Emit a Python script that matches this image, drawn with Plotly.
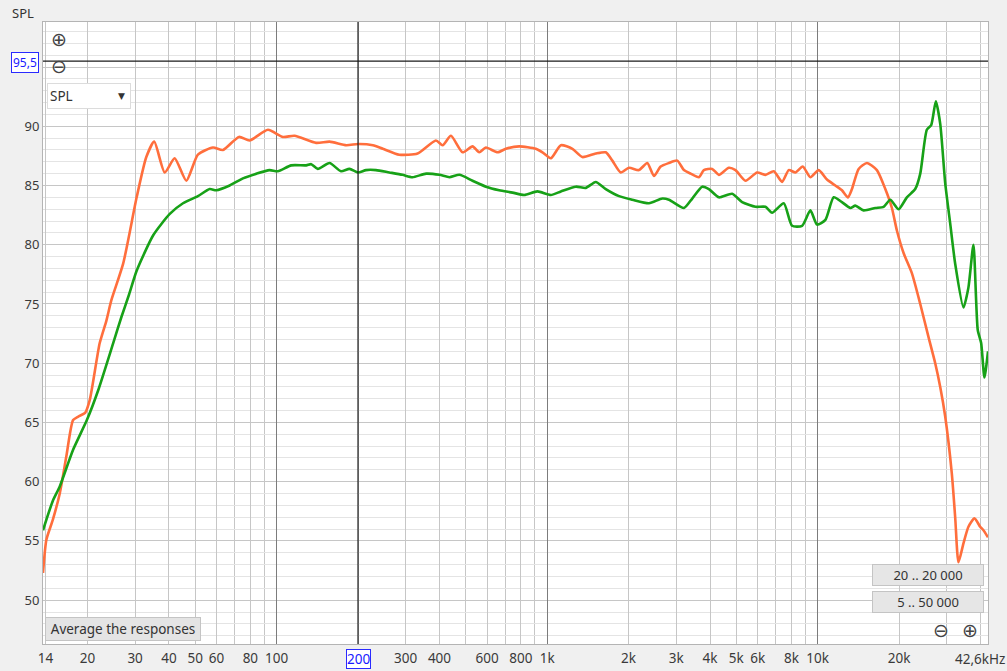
import math
import plotly.graph_objects as go

# ---------------- data ----------------
orange_freq = [13.7, 14.1, 14.9, 15.8, 16.7, 17.7, 18.5, 19.6, 20.4, 22.2, 23.5, 24.5, 27.1, 30.4,
               33.0, 35.3, 38.6, 42.0, 46.4, 51.2, 58.2, 63.4, 72.6, 79.5, 92.9, 105.5, 116.5,
               140, 157, 181, 200, 227, 247, 284, 332, 388, 411, 441, 487, 530, 561, 594, 656,
               704, 788, 908, 961, 1032, 1124, 1240, 1350, 1512, 1647, 1742, 1871, 2007, 2185,
               2345, 2482, 2628, 2820, 3026, 3203, 3391, 3638, 3796, 4074, 4312, 4694, 4969,
               5410, 5970, 6412, 6880, 7385, 7816, 8274, 8805, 9399, 10085, 10822, 11622, 12292,
               12934, 13384, 14169, 15204, 16549, 17778, 18805, 19620, 20766, 22284, 23933,
               25680, 27186, 28370, 29598, 31304, 32219, 33136, 34571, 36071, 37958, 39847,
               40975, 42600]
orange_spl = [52.3, 55.1, 56.8, 59.0, 62.1, 65.2, 65.5, 65.8, 66.9, 71.7, 73.6, 75.3, 78.4, 84.0,
              87.4, 88.7, 86.1, 87.3, 85.4, 87.6, 88.2, 88.0, 89.1, 88.8, 89.7, 89.1, 89.2,
              88.6, 88.7, 88.4, 88.5, 88.4, 88.1, 87.6, 87.7, 88.8, 88.4, 89.2, 87.8, 88.3, 87.8,
              88.2, 87.8, 88.1, 88.3, 88.1, 87.8, 87.3, 88.4, 88.1, 87.4, 87.7, 87.8, 87.1, 86.1,
              86.5, 86.3, 86.9, 85.8, 86.6, 86.9, 87.1, 86.3, 86.0, 85.7, 86.3, 86.4, 85.9, 86.5,
              86.3, 85.4, 86.1, 85.9, 86.2, 85.3, 86.3, 86.1, 86.6, 85.7, 86.3, 85.5, 85.0, 84.6,
              84.0, 84.7, 86.4, 86.9, 86.3, 84.7, 83.1, 81.2, 79.3, 77.6, 75.0, 72.2, 70.0, 68.0,
              65.5, 60.7, 57.0, 53.2, 54.8, 56.2, 56.9, 56.2, 55.9, 55.3]

green_freq = [13.7, 14.9, 15.8, 17.7, 19.9, 21.9, 24.9, 26.7, 28.5, 30.4, 35.0, 40.3, 45.1, 51.2,
              56.6, 59.9, 67.1, 75.1, 84.2, 94.2, 101.1, 113.3, 128.7, 134.3, 142, 157, 173, 186,
              200, 214, 233, 261, 292, 318, 357, 400, 435, 474, 530, 594, 665, 745, 823, 921,
              1032, 1124, 1276, 1389, 1512, 1647, 1844, 2064, 2379, 2664, 2820, 3203, 3438, 3742,
              3961, 4312, 4828, 5256, 5890, 6412, 6783, 7491, 8039, 8754, 9399, 9941, 10676,
              11455, 12292, 13203, 13775, 14778, 16325, 17521, 18545, 19904, 21357, 22933, 23933,
              25310, 26276, 27326, 28370, 29598, 30880, 32219, 34571, 36071, 37640, 39042, 40188,
              41325, 42600]
green_spl = [55.9, 58.4, 59.6, 62.7, 65.2, 67.7, 71.7, 73.9, 75.8, 77.8, 80.8, 82.6, 83.5, 84.1,
             84.7, 84.6, 85.0, 85.6, 86.0, 86.3, 86.2, 86.7, 86.7, 86.8, 86.4, 86.9, 86.2, 86.4,
             86.1, 86.3, 86.3, 86.1, 85.9, 85.7, 86.0, 85.9, 85.7, 85.9, 85.4, 84.9, 84.6, 84.4,
             84.2, 84.5, 84.2, 84.5, 84.9, 84.8, 85.3, 84.7, 84.1, 83.8, 83.5, 83.9, 83.8, 83.1,
             83.9, 84.9, 84.7, 84.0, 84.3, 83.6, 83.2, 83.2, 82.7, 83.5, 81.6, 81.6, 82.9, 81.7,
             82.1, 84.0, 83.6, 83.1, 83.3, 82.9, 83.1, 83.2, 83.8, 83.0, 84.0, 84.7, 86.0, 89.7,
             90.1, 92.1, 90.2, 85.2, 81.8, 78.4, 74.7, 76.4, 80.0, 72.8, 71.7, 68.8, 71.0]

x_tick_vals = [14, 20, 30, 40, 50, 60, 80, 100, 300, 400, 600, 800, 1000, 2000, 3000, 4000,
               5000, 6000, 8000, 10000, 20000]
x_tick_text = ["14", "20", "30", "40", "50", "60", "80", "100", "300", "400", "600", "800", "1k",
               "2k", "3k", "4k", "5k", "6k", "8k", "10k", "20k"]
x_minor_vals = [m * 10 ** e for e in range(1, 5) for m in range(1, 10) if 13 < m * 10 ** e < 43000]
x_decades = [100, 1000, 10000]
x_range_hz = [13.7, 42600]
x_end_label = "42,6kHz"

y_tick_vals = [50, 55, 60, 65, 70, 75, 80, 85, 90, 95]
y_tick_text = ["50", "55", "60", "65", "70", "75", "80", "85", "90", ""]
y_range = [46.3, 98.8]

cursor_freq = 200
cursor_db = 95.5

# ---------------- figure ----------------
ORANGE = "#ff6e3c"
GREEN = "#17a117"
FONT = "Noto Sans"
BG = "#f0f0f0"

fig = go.Figure()
fig.add_trace(go.Scatter(x=orange_freq, y=orange_spl, mode="lines",
                         line=dict(color=ORANGE, width=2.6, shape="spline", smoothing=0.6),
                         hoverinfo="skip", showlegend=False))
fig.add_trace(go.Scatter(x=green_freq, y=green_spl, mode="lines",
                         line=dict(color=GREEN, width=2.6, shape="spline", smoothing=0.6),
                         hoverinfo="skip", showlegend=False))
# cursor lines
fig.add_trace(go.Scatter(x=[cursor_freq, cursor_freq], y=y_range, mode="lines", xaxis="x2",
                         line=dict(color="#1a1a1a", width=1.2), hoverinfo="skip", showlegend=False))
fig.add_trace(go.Scatter(x=x_range_hz, y=[cursor_db, cursor_db], mode="lines", xaxis="x2",
                         line=dict(color="#1a1a1a", width=1.2), hoverinfo="skip", showlegend=False))

xr = [math.log10(x_range_hz[0]), math.log10(x_range_hz[1])]

fig.update_layout(
    width=1007, height=671,
    margin=dict(l=43, r=19, t=22, b=27, autoexpand=False),
    paper_bgcolor=BG, plot_bgcolor="white",
    font=dict(family=FONT, size=13, color="#3a3a3a"),
    xaxis=dict(type="log", range=xr, tickvals=x_tick_vals, ticktext=x_tick_text,
               showgrid=True, gridcolor="#c6c6c6", gridwidth=1, ticks="", zeroline=False,
               showline=True, mirror=True, linecolor="#b4b4b4", automargin=False,
               ticklabelstandoff=2,
               minor=dict(tickvals=x_minor_vals, showgrid=True, gridcolor="#c6c6c6", ticks=""),
               tickfont=dict(size=13.5, color="#3a3a3a")),
    xaxis2=dict(type="log", range=xr, overlaying="x", tickvals=x_decades, automargin=False,
                showticklabels=False, showgrid=True, gridcolor="#7c7c7c", gridwidth=1,
                ticks="", zeroline=False, showline=False),
    yaxis=dict(range=y_range, tickvals=y_tick_vals, ticktext=y_tick_text, automargin=False,
               showgrid=True, gridcolor="#c6c6c6", gridwidth=1, ticks="", zeroline=False,
               showline=True, mirror=True, linecolor="#b4b4b4",
               minor=dict(dtick=1, tick0=0, showgrid=True, gridcolor="#e4e4e4", ticks=""),
               tickfont=dict(size=13, color="#3a3a3a")),
)

W, H = 945.0, 622.0  # plot area size in px (l=43, t=22)


def px(x, y):
    return (x - 43) / W, (644 - y) / H


def ann(x, y, text, **kw):
    ax, ay = px(x, y)
    d = dict(x=ax, y=ay, xref="paper", yref="paper", text=text, showarrow=False,
             xanchor="center", yanchor="middle")
    d.update(kw)
    fig.add_annotation(**d)


# axis title
ann(23, 13, "SPL", font=dict(size=13, color="#333"))
# zoom icons top-left
ann(59, 39, "⊕", font=dict(family="DejaVu Sans", size=19, color="#444"))
ann(59, 66, "⊖", font=dict(family="DejaVu Sans", size=19, color="#444"))
# cursor value labels
ann(25, 62, "95,5", font=dict(size=12, color="#1a1aff"), bordercolor="#2a2aff", borderwidth=1,
    borderpad=1, bgcolor="white")
ann(358, 659, "200", font=dict(size=13.5, color="#1a1aff"), bordercolor="#2a2aff", borderwidth=1,
    borderpad=0, bgcolor="white")
ann(1007, 659, x_end_label, xanchor="right", font=dict(size=13.5, color="#3a3a3a"))
# SPL dropdown
ann(89, 96, "SPL", width=78, height=20, align="left", bgcolor="white", bordercolor="#dcdcdc",
    borderwidth=1, borderpad=2, font=dict(size=13.5, color="#333"))
ann(121, 96, "▼", font=dict(family="DejaVu Sans", size=9, color="#333"))
# Average button
ann(123, 629, "Average the responses", width=152, height=20, bgcolor="#e4e4e4",
    bordercolor="#c4c4c4", borderwidth=1, borderpad=1, font=dict(size=13.5, color="#333"))
# range buttons
ann(928, 575, "20 .. 20 000", width=108, height=18, bgcolor="#e6e6e6", bordercolor="#c4c4c4",
    borderwidth=1, borderpad=1, font=dict(size=13, color="#333"))
ann(928, 602, "5 .. 50 000", width=108, height=18, bgcolor="#e6e6e6", bordercolor="#c4c4c4",
    borderwidth=1, borderpad=1, font=dict(size=13, color="#333"))
# zoom icons bottom-right
ann(941, 630, "⊖", font=dict(family="DejaVu Sans", size=19, color="#444"))
ann(970, 630, "⊕", font=dict(family="DejaVu Sans", size=19, color="#444"))

fig.write_html(
    "out.html",
    config={"displayModeBar": False},
    post_script="document.body.style.margin='0';document.body.style.background='%s';"
                "document.body.style.overflow='hidden';" % BG,
)
